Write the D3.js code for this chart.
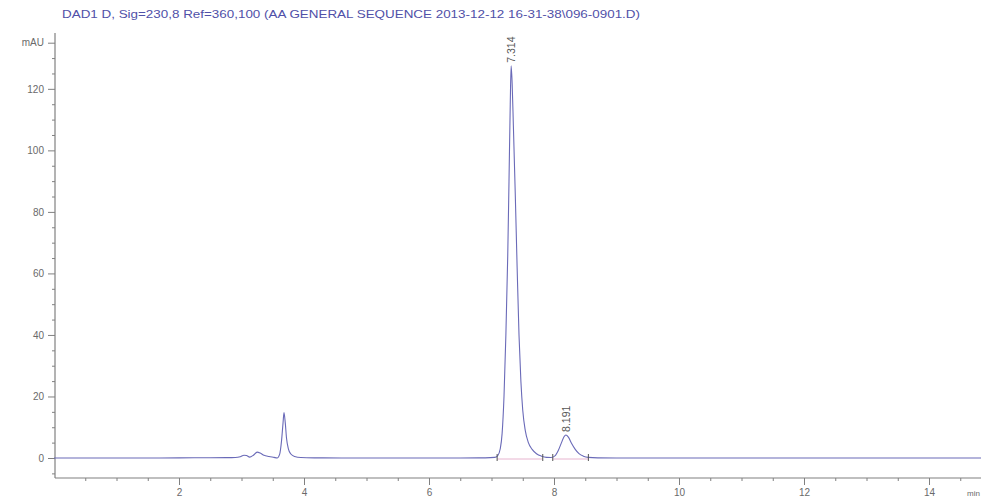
<!DOCTYPE html>
<html>
<head>
<meta charset="utf-8">
<script src="https://cdn.jsdelivr.net/npm/d3@7"></script>
<style>
body { margin: 0; background: #fff; }
text { font-family: "Liberation Sans", Arial, sans-serif; }
</style>
</head>
<body>
<svg id="chart" width="981" height="499"></svg>
<script>
var title = "DAD1 D, Sig=230,8 Ref=360,100 (AA GENERAL SEQUENCE 2013-12-12 16-31-38\\096-0901.D)";

// retention time (min) and signal (mAU)
var times = [0, 0.5, 1.0, 1.5, 2.0, 2.5, 2.9, 2.98, 3.04, 3.08, 3.13, 3.19, 3.25, 3.30, 3.36, 3.44, 3.52, 3.57,
	3.61, 3.64, 3.665, 3.68, 3.70, 3.72, 3.75, 3.79, 3.85, 3.95, 4.2, 4.6, 5.0, 5.5, 6.0, 6.5, 6.9,
	7.05, 7.10, 7.14, 7.17, 7.20, 7.23, 7.26, 7.28, 7.30, 7.314, 7.33, 7.35, 7.38, 7.41, 7.44, 7.47, 7.50,
	7.54, 7.59, 7.65, 7.72, 7.80, 7.88, 7.95, 8.02, 8.07, 8.12, 8.16, 8.19, 8.23, 8.28, 8.34, 8.40, 8.47,
	8.55, 8.7, 9.0, 10, 11, 12, 13, 14, 14.85];
var mau = [0, 0, 0, 0, 0.05, 0.1, 0.15, 0.4, 0.9, 0.8, 0.3, 0.9, 1.9, 1.6, 0.9, 0.5, 0.2, 0.0,
	1.2, 5.5, 11.5, 14.8, 11.5, 6.5, 3, 1.3, 0.5, 0.15, 0.05, 0, 0, 0, 0, 0, 0.05,
	0.2, 0.8, 3, 8, 20, 40, 66, 90, 115, 127.5, 122, 108, 86, 62, 40, 25, 15.5,
	9, 5, 2.8, 1.4, 0.6, 0.2, 0.15, 0.8, 2.5, 5, 6.9, 7.5, 6.8, 4.8, 2.8, 1.4, 0.6,
	0.2, 0.05, 0, 0, 0, 0, 0, 0, 0];

var peakTimes = [7.314, 8.191];
var peakHeights = [127.5, 7.5];
var peakLabels = ["7.314", "8.191"];

// integration start / end marks
var markTimes = [7.09, 7.82, 7.98, 8.55];
var baseStart = [7.09, 7.98];
var baseEnd = [7.82, 8.55];

var yMajor = [0, 20, 40, 60, 80, 100, 120, 135];
var yMinor = [-5, 5, 10, 15, 25, 30, 35, 45, 50, 55, 65, 70, 75, 85, 90, 95, 105, 110, 115, 125, 130];
var xMajor = [2, 4, 6, 8, 10, 12, 14];
var xMinor = [0.5, 1, 1.5, 2.5, 3, 3.5, 4.5, 5, 5.5, 6.5, 7, 7.5, 8.5, 9, 9.5, 10.5, 11, 11.5, 12.5, 13, 13.5, 14.5];

var W = 981, H = 499;
var svg = d3.select("#chart");

var x = d3.scaleLinear().domain([0, 14.832]).range([54, 981]);
var y = d3.scaleLinear().domain([-6.5, 137.5]).range([478, 35]);

var axisColor = "#808080";

// title
svg.append("text")
	.attr("x", 62)
	.attr("y", 18)
	.attr("font-size", "10.5px")
	.attr("textLength", 578)
	.attr("lengthAdjust", "spacingAndGlyphs")
	.attr("fill", "#5050a8")
	.text(title);

// y axis
var gyMinor = svg.append("g")
	.attr("transform", "translate(55,0)")
	.call(d3.axisLeft(y).tickValues(yMinor).tickSize(3).tickFormat(""));
var gy = svg.append("g")
	.attr("transform", "translate(55,0)")
	.call(d3.axisLeft(y).tickValues(yMajor).tickSize(7).tickPadding(4)
		.tickFormat(function(d){ return d === 135 ? "mAU" : d; }));

// x axis
var gxMinor = svg.append("g")
	.attr("transform", "translate(0,478)")
	.call(d3.axisBottom(x).tickValues(xMinor).tickSize(3).tickFormat(""));
var gx = svg.append("g")
	.attr("transform", "translate(0,478)")
	.call(d3.axisBottom(x).tickValues(xMajor).tickSize(7).tickPadding(4));

[gy, gyMinor, gx, gxMinor].forEach(function(g){
	g.selectAll("path").attr("stroke", axisColor).attr("stroke-width", 1.2);
	g.selectAll("line").attr("stroke", axisColor);
	g.selectAll("text").attr("fill", "#6a6a6a").attr("font-size", "10px")
		.attr("font-family", "Liberation Sans, Arial, sans-serif");
});
gx.select("path").attr("d", "M55,0H981");
gxMinor.select("path").remove();
gyMinor.select("path").remove();
gy.select("path").attr("d", "M0,478V33");

svg.append("text")
	.attr("x", W - 1)
	.attr("y", 496)
	.attr("text-anchor", "end")
	.attr("font-size", "8px")
	.attr("fill", "#6a6a6a")
	.text("min");

// integration baselines
svg.append("g").selectAll("line")
	.data(baseStart)
	.join("line")
	.attr("x1", function(d){ return x(d); })
	.attr("x2", function(d, i){ return x(baseEnd[i]); })
	.attr("y1", y(0) + 1)
	.attr("y2", y(0) + 1)
	.attr("stroke", "#e7b4cf")
	.attr("stroke-width", 1);

// trace
var pts = times.map(function(t, i){ return [t, mau[i]]; });
var line = d3.line()
	.x(function(d){ return x(d[0]); })
	.y(function(d){ return y(d[1]); })
	.curve(d3.curveMonotoneX);

svg.append("path")
	.datum(pts)
	.attr("d", line)
	.attr("fill", "none")
	.attr("stroke", "#6a6ab8")
	.attr("stroke-width", 1.1);

// peak start / end ticks
svg.append("g").selectAll("line")
	.data(markTimes)
	.join("line")
	.attr("x1", function(d){ return x(d); })
	.attr("x2", function(d){ return x(d); })
	.attr("y1", y(0) - 4)
	.attr("y2", y(0) + 3)
	.attr("stroke", "#555")
	.attr("stroke-width", 1);

// peak labels
svg.append("g").selectAll("text")
	.data(peakTimes)
	.join("text")
	.attr("transform", function(d, i){
		return "translate(" + (x(d) + 4) + "," + (y(peakHeights[i]) - 3) + ") rotate(-90)";
	})
	.attr("font-size", "10.5px")
	.attr("fill", "#555")
	.text(function(d, i){ return peakLabels[i]; });
</script>
</body>
</html>
